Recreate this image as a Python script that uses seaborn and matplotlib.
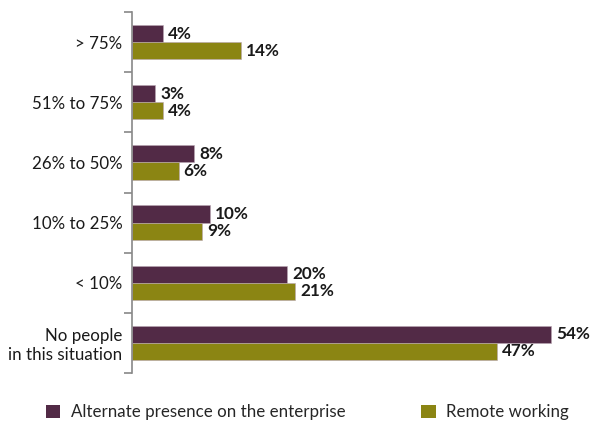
import matplotlib
matplotlib.use("Agg")
import matplotlib.pyplot as plt
import seaborn as sns
import pandas as pd
import numpy as np
from matplotlib.patches import Patch

categories = ["> 75%", "51% to 75%", "26% to 50%", "10% to 25%", "< 10%",
              "No people\nin this situation"]
series_names = ["Alternate presence on the enterprise", "Remote working"]
alternate = [4, 3, 8, 10, 20, 54]
remote = [14, 4, 6, 9, 21, 47]

colors = ["#522A46", "#8B8513"]

df = pd.DataFrame({
    "category": categories * 2,
    "series": [series_names[0]] * len(categories) + [series_names[1]] * len(categories),
    "value": alternate + remote,
})

sns.set_style("white")
plt.rcParams["font.family"] = ["Lato", "DejaVu Sans"]

fig = plt.figure(figsize=(5.91, 4.21), dpi=100)
ax = fig.add_axes([0.2234, 0.114, 0.762, 0.8575])

sns.barplot(data=df, y="category", x="value", hue="series", order=categories,
            hue_order=series_names, palette=colors, orient="h", width=0.57,
            ax=ax, legend=False, saturation=1, edgecolor="#b9a6b3", linewidth=0.4)

for cont in ax.containers:
    ax.bar_label(cont, fmt="%d%%", padding=3.5, fontsize=12.3, fontweight="bold",
                 color="#1a1a1a")

ax.set_xlim(0, 58)
ax.set_ylim(len(categories) - 0.5, -0.5)
ax.set_xlabel("")
ax.set_ylabel("")
ax.set_xticks([])
ax.set_yticks(range(len(categories)))
ax.set_yticklabels(categories, fontsize=12.2, color="#1a1a1a", linespacing=1.2)
ax.set_yticks(np.arange(-0.5, len(categories), 1.0), minor=True)
ax.tick_params(axis="y", which="major", length=0, pad=7)
ax.tick_params(axis="y", which="minor", length=6, width=1.2, color="#888888", left=True)
for s in ["top", "right", "bottom"]:
    ax.spines[s].set_visible(False)
ax.spines["left"].set_color("#888888")
ax.spines["left"].set_linewidth(1.2)

handles = [Patch(facecolor=c, edgecolor="none") for c in colors]
fig.legend(handles, series_names, loc="lower left", bbox_to_anchor=(0.052, -0.035),
           ncol=2, frameon=False, fontsize=12.2, handlelength=0.85, handleheight=0.85,
           handletextpad=0.6, columnspacing=4.5)

fig.savefig("out.png", dpi=100)
